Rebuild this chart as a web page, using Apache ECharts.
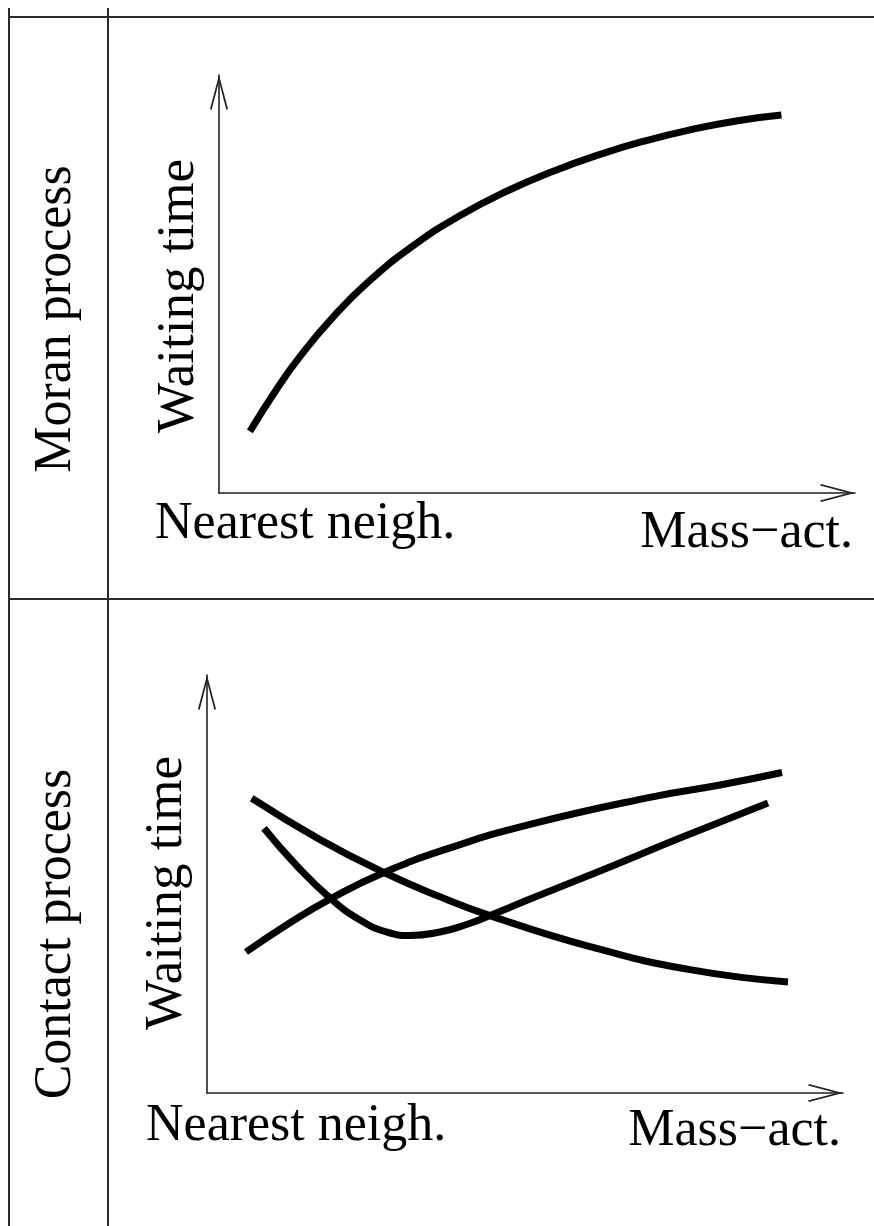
<!DOCTYPE html>
<html>
<head>
<meta charset="utf-8">
<script src="https://cdn.jsdelivr.net/npm/echarts@6/dist/echarts.min.js"></script>
<style>
html,body{margin:0;padding:0;background:#fff;}
#chart{width:874px;height:1226px;}
</style>
</head>
<body>
<div id="chart"></div>
<script>
// ---- Data (axes run 0..100 from origin to arrow tip) ----
const panelTitles = ['Moran process', 'Contact process'];
const yAxisTitle = 'Waiting time';
const xEndLabels = ['Nearest neigh.', 'Mass\u2212act.'];

// Moran process panel
const moranX = [4.86, 9.06, 12.69, 17.75, 23.55, 30.80, 38.05, 45.30, 52.55, 59.80, 67.04, 74.29, 81.54, 88.43];
const moranY = [14.74, 24.83, 32.56, 41.79, 50.62, 59.45, 66.51, 72.25, 76.99, 80.96, 84.26, 86.96, 89.07, 90.43];

// Contact process panel
const riseX = [6.13, 13.05, 19.34, 27.67, 38.21, 50.79, 69.65, 80.66, 90.41];
const riseY = [33.73, 40.74, 46.39, 52.63, 58.64, 64.28, 70.74, 73.68, 76.67];

const fallX = [7.03, 17.77, 27.67, 36.64, 44.50, 60.22, 75.94, 91.35];
const fallY = [70.50, 60.62, 52.87, 46.94, 42.44, 35.02, 29.52, 26.56];

const dipX = [8.96, 14.15, 19.34, 24.06, 27.99, 31.92, 36.64, 40.57, 44.50, 50.79, 61.79, 74.37, 88.21];
const dipY = [63.33, 54.31, 46.65, 41.39, 38.64, 37.68, 38.52, 40.19, 42.46, 46.41, 53.11, 61.00, 69.38];

// ---- Build ----
function pairs(xs, ys) { return xs.map((x, i) => [x, ys[i]]); }

const FONT = '"Liberation Serif", "Times New Roman", serif';
const ARROW = 'path://M9,0 L18,34 L16.4,35 L9,6.5 L1.6,35 L0,34 Z';
const axisLine = {
  show: true,
  symbol: ['none', ARROW],
  symbolSize: [18, 35],
  symbolOffset: [0, -17.5],
  lineStyle: { color: '#222', width: 1.6 }
};
function axis(gridIndex) {
  return {
    type: 'value', gridIndex: gridIndex, min: 0, max: 100,
    axisLine: axisLine,
    axisTick: { show: false }, axisLabel: { show: false }, splitLine: { show: false }
  };
}
function curve(xs, ys, gi) {
  return {
    type: 'line', xAxisIndex: gi, yAxisIndex: gi,
    data: pairs(xs, ys), smooth: 0.5, showSymbol: false, symbol: 'none',
    lineStyle: { color: '#000', width: 7, cap: 'butt' }, silent: true
  };
}
function text(str, x, y, rot, align, size) {
  return {
    type: 'text', x: x, y: y, rotation: rot || 0, silent: true,
    style: {
      text: str, font: (size || 52) + 'px ' + FONT, fill: '#000',
      align: align || 'center', verticalAlign: 'middle',
      textAlign: align || 'center', textVerticalAlign: 'middle'
    }
  };
}
function hline(x1, x2, y) {
  return { type: 'line', silent: true, shape: { x1: x1, y1: y, x2: x2, y2: y }, style: { stroke: '#2a2a2a', lineWidth: 2 } };
}
function vline(x, y1, y2) {
  return { type: 'line', silent: true, shape: { x1: x, y1: y1, x2: x, y2: y2 }, style: { stroke: '#2a2a2a', lineWidth: 2 } };
}

const chart = echarts.init(document.getElementById('chart'), null, { renderer: 'canvas' });
chart.setOption({
  animation: false,
  backgroundColor: '#fff',
  grid: [
    { left: 219, top: 75, width: 636, height: 418, containLabel: false, outerBoundsMode: 'none' },
    { left: 207, top: 675, width: 636, height: 418, containLabel: false, outerBoundsMode: 'none' }
  ],
  xAxis: [axis(0), axis(1)],
  yAxis: [axis(0), axis(1)],
  series: [
    curve(moranX, moranY, 0),
    curve(riseX, riseY, 1),
    curve(fallX, fallY, 1),
    curve(dipX, dipY, 1)
  ],
  graphic: [
    hline(9, 874, 17),
    hline(9, 874, 599),
    vline(9, 8, 1226),
    vline(108, 8, 1226),
    text(panelTitles[0], 56, 319, Math.PI / 2),
    text(panelTitles[1], 56, 934, Math.PI / 2),
    text(yAxisTitle, 179, 296, Math.PI / 2, 'center', 53),
    text(yAxisTitle, 167, 893, Math.PI / 2, 'center', 53),
    text(xEndLabels[0], 155, 524, 0, 'left'),
    text(xEndLabels[1], 853, 533, 0, 'right'),
    text(xEndLabels[0], 146, 1126, 0, 'left'),
    text(xEndLabels[1], 841, 1131, 0, 'right')
  ]
});
</script>
</body>
</html>
